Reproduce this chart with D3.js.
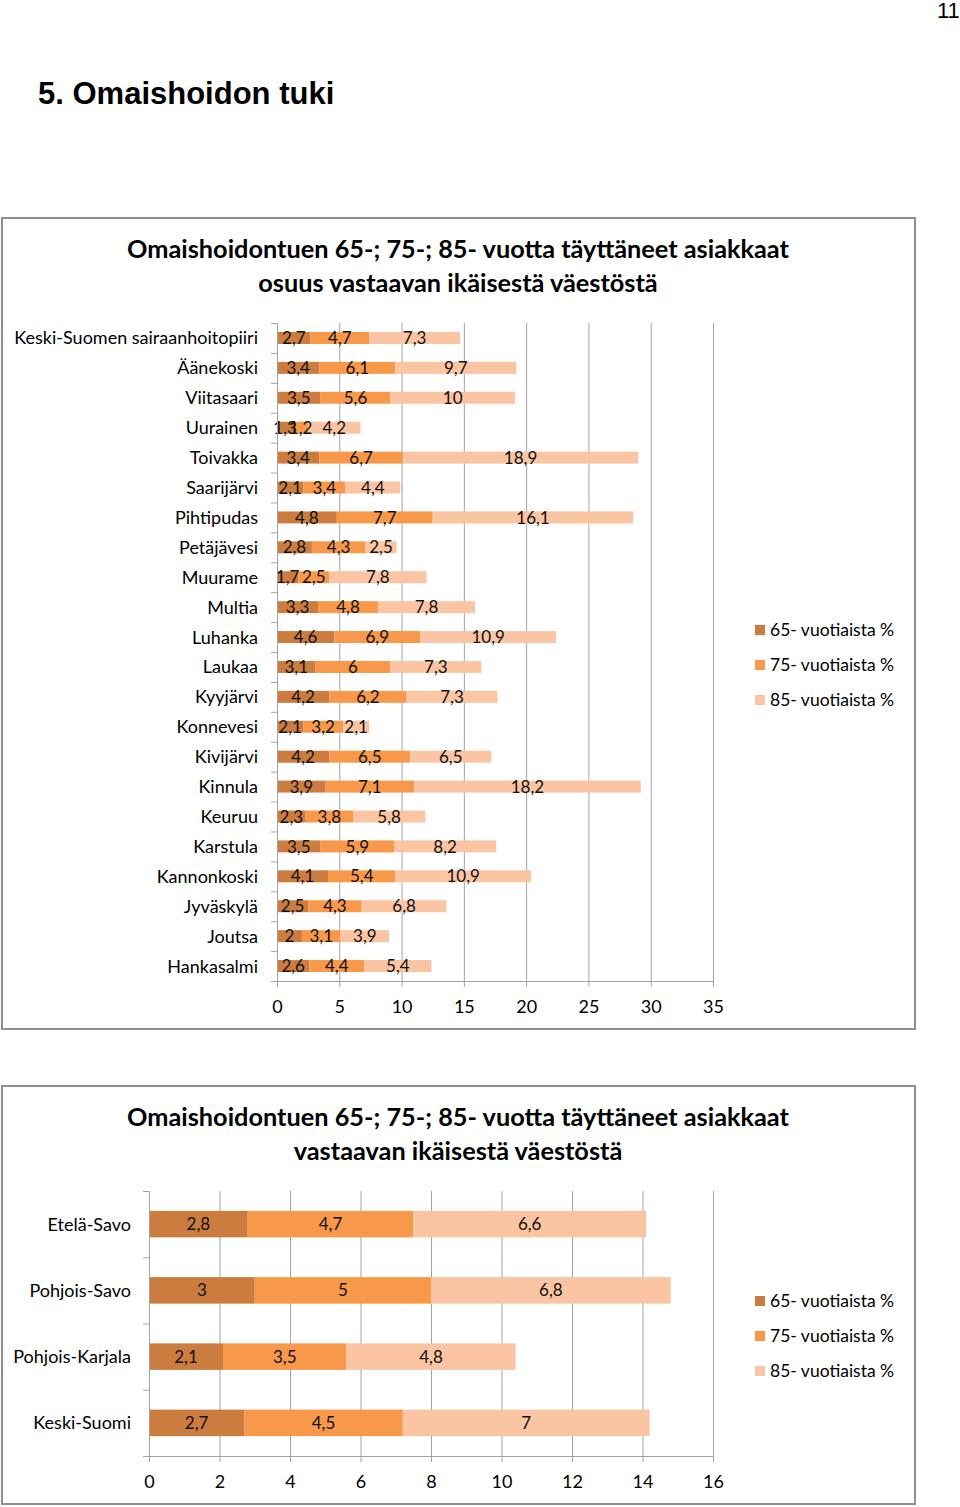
<!DOCTYPE html>
<html><head><meta charset="utf-8">
<script src="https://cdn.jsdelivr.net/npm/d3@7/dist/d3.min.js"></script>
<style>body{margin:0;background:#fff}svg{display:block}</style>
</head><body>
<svg id="c" width="960" height="1507"></svg>
<script>
// ---- Data: chart 1 (municipalities) ----
const municipalities = ["Keski-Suomen sairaanhoitopiiri","Äänekoski","Viitasaari","Uurainen","Toivakka","Saarijärvi","Pihtipudas","Petäjävesi","Muurame","Multia","Luhanka","Laukaa","Kyyjärvi","Konnevesi","Kivijärvi","Kinnula","Keuruu","Karstula","Kannonkoski","Jyväskylä","Joutsa","Hankasalmi"];
const mun65 = [2.7,3.4,3.5,1.3,3.4,2.1,4.8,2.8,1.7,3.3,4.6,3.1,4.2,2.1,4.2,3.9,2.3,3.5,4.1,2.5,2.0,2.6];
const mun75 = [4.7,6.1,5.6,1.2,6.7,3.4,7.7,4.3,2.5,4.8,6.9,6.0,6.2,3.2,6.5,7.1,3.8,5.9,5.4,4.3,3.1,4.4];
const mun85 = [7.3,9.7,10,4.2,18.9,4.4,16.1,2.5,7.8,7.8,10.9,7.3,7.3,2.1,6.5,18.2,5.8,8.2,10.9,6.8,3.9,5.4];
const munTicks = [0,5,10,15,20,25,30,35];

// ---- Data: chart 2 (regions) ----
const regions = ["Etelä-Savo","Pohjois-Savo","Pohjois-Karjala","Keski-Suomi"];
const reg65 = [2.8,3.0,2.1,2.7];
const reg75 = [4.7,5.0,3.5,4.5];
const reg85 = [6.6,6.8,4.8,7.0];
const regTicks = [0,2,4,6,8,10,12,14,16];

const seriesNames = ["65- vuotiaista %","75- vuotiaista %","85- vuotiaista %"];
const seriesColors = ["#CB7C3E","#F7984A","#FBC4A2"];

const FONT = "Lato, 'Open Sans', sans-serif";
const svg = d3.select("#c");

// page header
svg.append("text").attr("x",38).attr("y",104)
  .style("font-family","'Liberation Sans', Arial, sans-serif").style("font-weight","bold").style("font-size","31px")
  .text("5. Omaishoidon tuki");
svg.append("text").attr("x",937).attr("y",18)
  .style("font-family","'Liberation Sans', Arial, sans-serif").style("font-size","22px")
  .text("11");

function fmt(v){ return String(v).replace(".", ","); }

function drawChart(o){
  const g = svg.append("g");
  g.append("rect").attr("x",o.frame[0]).attr("y",o.frame[1]).attr("width",o.frame[2]).attr("height",o.frame[3])
    .attr("fill","#fff").attr("stroke","#8f8f8f").attr("stroke-width",2);
  o.title.forEach((t,i)=>{
    g.append("text").attr("x",458).attr("y",o.titleY + i*o.titleGap).attr("text-anchor","middle")
      .style("font-family",FONT).style("font-weight","bold").style("font-size",o.titleSize+"px").attr("fill","#000").text(t);
  });
  const rows = o.cats.map((c,i)=>({cat:c, s0:o.s[0][i], s1:o.s[1][i], s2:o.s[2][i]}));
  const x = d3.scaleLinear().domain([0, o.max]).range([o.left, o.right]);
  const y = d3.scaleBand().domain(o.cats).range([o.top, o.bottom]).paddingInner(0.6).paddingOuter(0.3);
  const H = o.bottom - o.top;
  g.append("g").attr("transform",`translate(0,${o.bottom})`)
    .call(d3.axisBottom(x).tickValues(o.ticks).tickSize(-H).tickFormat(""))
    .call(a=>a.select(".domain").remove())
    .call(a=>a.selectAll("line").attr("stroke","#a3a3a3").attr("stroke-width",1));
  const stack = d3.stack().keys(["s0","s1","s2"])(rows);
  stack.forEach((layer,k)=>{
    g.append("g").selectAll("rect").data(layer).join("rect")
      .attr("x",d=>x(d[0])).attr("width",d=>x(d[1])-x(d[0]))
      .attr("y",d=>y(d.data.cat)).attr("height",y.bandwidth())
      .attr("fill",seriesColors[k]);
  });
  stack.forEach((layer,k)=>{
    g.append("g").selectAll("text").data(layer).join("text")
      .attr("x",d=>(x(d[0])+x(d[1]))/2).attr("y",d=>y(d.data.cat)+y.bandwidth()/2)
      .attr("text-anchor","middle").attr("dy","0.36em")
      .style("font-family",FONT).style("font-size",o.valSize+"px").attr("fill","#111")
      .text(d=>fmt(d.data["s"+k]));
  });
  g.append("g").attr("transform",`translate(0,${o.bottom})`)
    .call(d3.axisBottom(x).tickValues(o.ticks).tickSize(6).tickSizeOuter(0).tickPadding(o.tickPad).tickFormat(d=>fmt(d)))
    .call(a=>a.select(".domain").attr("stroke","#a3a3a3"))
    .call(a=>a.selectAll("line").attr("stroke","#a3a3a3"))
    .call(a=>a.selectAll("text").style("font-family",FONT).style("font-size",o.tickSize+"px").attr("fill","#000"));
  const yb = d3.scaleLinear().domain([0, o.cats.length]).range([o.top, o.bottom]);
  g.append("g").attr("transform",`translate(${o.left},0)`)
    .call(d3.axisLeft(yb).tickValues(d3.range(o.cats.length+1)).tickSize(6).tickSizeOuter(0).tickFormat(""))
    .call(a=>a.select(".domain").attr("stroke","#a3a3a3"))
    .call(a=>a.selectAll("line").attr("stroke","#a3a3a3"));
  g.append("g").selectAll("text").data(o.cats).join("text")
    .attr("x",o.labelX).attr("y",d=>y(d)+y.bandwidth()/2).attr("dy","0.36em").attr("text-anchor","end")
    .style("font-family",FONT).style("font-size",o.catSize+"px").attr("fill","#000").text(d=>d);
  seriesNames.forEach((n,i)=>{
    const ly = o.legendY + i*35;
    g.append("rect").attr("x",755).attr("y",ly-5).attr("width",10).attr("height",10).attr("fill",seriesColors[i]);
    g.append("text").attr("x",770).attr("y",ly).attr("dy","0.36em")
      .style("font-family",FONT).style("font-size","17.5px").attr("fill","#000").text(n);
  });
}

drawChart({
  frame:[2,218,913,811],
  title:["Omaishoidontuen 65-; 75-; 85- vuotta täyttäneet asiakkaat","osuus vastaavan ikäisestä väestöstä"],
  titleY:258, titleGap:34, titleSize:25.3,
  cats:municipalities, s:[mun65,mun75,mun85], max:35, ticks:munTicks,
  left:277, right:713, top:323, bottom:981,
  labelX:258, catSize:18, valSize:17, tickSize:18, tickPad:13,
  legendY:630
});
drawChart({
  frame:[2,1086,913,418],
  title:["Omaishoidontuen 65-; 75-; 85- vuotta täyttäneet asiakkaat","vastaavan ikäisestä väestöstä"],
  titleY:1126, titleGap:34, titleSize:25.3,
  cats:regions, s:[reg65,reg75,reg85], max:16, ticks:regTicks,
  left:149, right:713, top:1191, bottom:1456,
  labelX:131, catSize:18, valSize:17, tickSize:18, tickPad:13,
  legendY:1301
});
</script>
</body></html>
